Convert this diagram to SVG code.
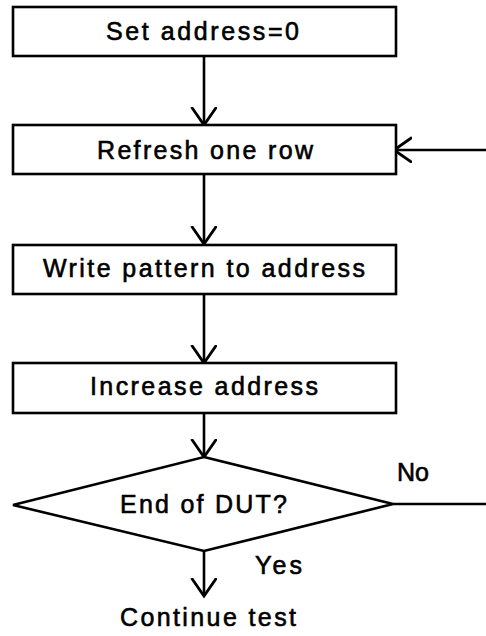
<svg xmlns="http://www.w3.org/2000/svg" width="486" height="636" viewBox="0 0 486 636">
<style>
.box{fill:#fff;stroke:#000;stroke-width:2.6}
.t{font-family:"Liberation Sans",Arial,sans-serif;font-size:25px;fill:#000;stroke:#000;stroke-width:0.6}
.ln{fill:none;stroke:#000;stroke-width:2.6}
</style>
<defs>
<marker id="ah" markerWidth="30" markerHeight="30" refX="18" refY="12.5" orient="auto" markerUnits="userSpaceOnUse">
<path d="M0,0 L18,12.5 L0,25" fill="none" stroke="#000" stroke-width="2.8"/>
</marker>
</defs>
<rect width="486" height="636" fill="#fff"/>
<g id="connectors">
<line class="ln" x1="204" y1="57" x2="204" y2="125" marker-end="url(#ah)"/>
<line class="ln" x1="204" y1="174" x2="204" y2="244" marker-end="url(#ah)"/>
<line class="ln" x1="204" y1="294" x2="204" y2="363" marker-end="url(#ah)"/>
<line class="ln" x1="204" y1="413" x2="204" y2="457" marker-end="url(#ah)"/>
<line class="ln" x1="204" y1="551" x2="204" y2="596" marker-end="url(#ah)"/>
<line class="ln" x1="393" y1="504" x2="486" y2="504"/>
<line class="ln" x1="486" y1="150" x2="394" y2="150" marker-end="url(#ah)"/>
<text class="t" x="397" y="481">No</text>
<text class="t" x="255" y="574" textLength="47">Yes</text>
</g>
<g id="n1">
<rect class="box" x="13" y="7" width="383" height="49"/>
<text class="t" x="106" y="40" textLength="193">Set address=0</text>
</g>
<g id="n2">
<rect class="box" x="13" y="125" width="383" height="49"/>
<text class="t" x="97" y="159" textLength="216">Refresh one row</text>
</g>
<g id="n3">
<rect class="box" x="13" y="245" width="383" height="49"/>
<text class="t" x="43" y="277" textLength="322">Write pattern to address</text>
</g>
<g id="n4">
<rect class="box" x="13" y="363" width="383" height="50"/>
<text class="t" x="90" y="395" textLength="228">Increase address</text>
</g>
<g id="n5">
<polygon class="box" points="204,457 393,504 204,551 13,505"/>
<text class="t" x="120" y="513" textLength="167">End of DUT?</text>
</g>
<g id="n6">
<text class="t" x="120" y="626" textLength="176">Continue test</text>
</g>
</svg>
